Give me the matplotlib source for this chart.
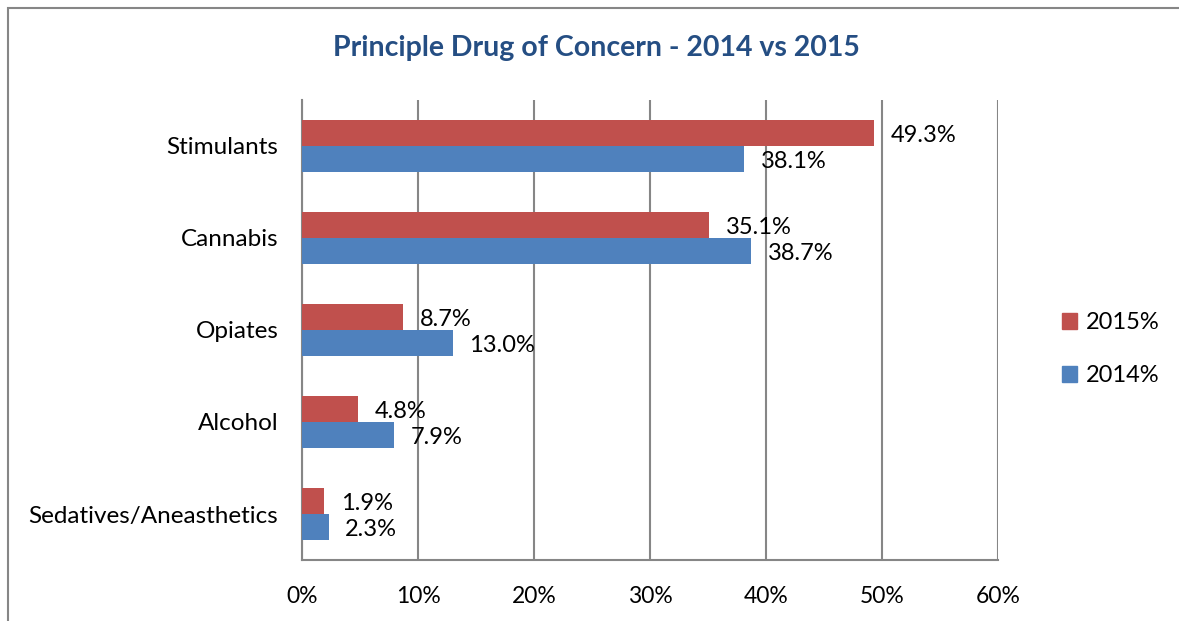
import matplotlib.pyplot as plt
import matplotlib
from matplotlib.patches import Rectangle, Patch

matplotlib.use("Agg")
plt.rcParams['font.family'] = ['Lato', 'DejaVu Sans']

drugs = ['Stimulants', 'Cannabis', 'Opiates', 'Alcohol', 'Sedatives/Aneasthetics']
pct_2015 = [49.3, 35.1, 8.7, 4.8, 1.9]
pct_2014 = [38.1, 38.7, 13.0, 7.9, 2.3]
xticks = [0, 10, 20, 30, 40, 50, 60]

rot = '#C0504D'
blau = '#4F81BD'
grau = '#868686'

fig = plt.figure(figsize=(11.79, 6.21), dpi=100)
ax = fig.add_axes([302/1179, 1 - 560/621, 696/1179, 460/621])

# rahmen um das diagramm (rechts/unten abgeschnitten)
fig.patches.append(Rectangle((8/1179, -0.1), 1.2, 1 - 8/621 + 0.1, transform=fig.transFigure,
                             fill=False, edgecolor=grau, linewidth=1.5))

y = list(range(len(drugs)))
h = 0.283
y_rot = [i - h/2 for i in y]
y_blau = [i + h/2 for i in y]

ax.barh(y_rot, pct_2015, height=h, color=rot, label='2015%', zorder=3)
ax.barh(y_blau, pct_2014, height=h, color=blau, label='2014%', zorder=3)

for yy, v in zip(y_rot, pct_2015):
    ax.annotate(f'{v:.1f}%', (v, yy), xytext=(12, -1.5), textcoords='offset points',
                va='center', ha='left', fontsize=17)
for yy, v in zip(y_blau, pct_2014):
    ax.annotate(f'{v:.1f}%', (v, yy), xytext=(12, -1.5), textcoords='offset points',
                va='center', ha='left', fontsize=17)

ax.set_xlim(0, 60)
ax.set_ylim(len(drugs) - 0.5, -0.5)
ax.set_xticks(xticks)
ax.set_xticklabels([f'{t}%' for t in xticks], fontsize=16.5)
ax.set_yticks(y)
ax.set_yticklabels(drugs, fontsize=17.5)
ax.tick_params(axis='both', length=0)
ax.tick_params(axis='x', pad=19)
ax.tick_params(axis='y', pad=17)
ax.grid(axis='x', color=grau, linewidth=1.5, zorder=0)
for s in ['top', 'right']:
    ax.spines[s].set_visible(False)
for s in ['left', 'bottom']:
    ax.spines[s].set_color(grau)
    ax.spines[s].set_linewidth(1.5)

fig.text(596/1179, 1 - 48/621, 'Principle Drug of Concern - 2014 vs 2015', ha='center', va='center',
         fontsize=20.5, fontweight='bold', color='#254E83')

handles = [Patch(color=rot, label='2015%'), Patch(color=blau, label='2014%')]
fig.legend(handles=handles, loc='center left', bbox_to_anchor=(1062/1179, 1 - 349/621),
           frameon=False, fontsize=17, handlelength=0.65, handleheight=0.65,
           handletextpad=0.35, labelspacing=1.35, borderpad=0, borderaxespad=0)

plt.savefig('out.png', dpi=100)
